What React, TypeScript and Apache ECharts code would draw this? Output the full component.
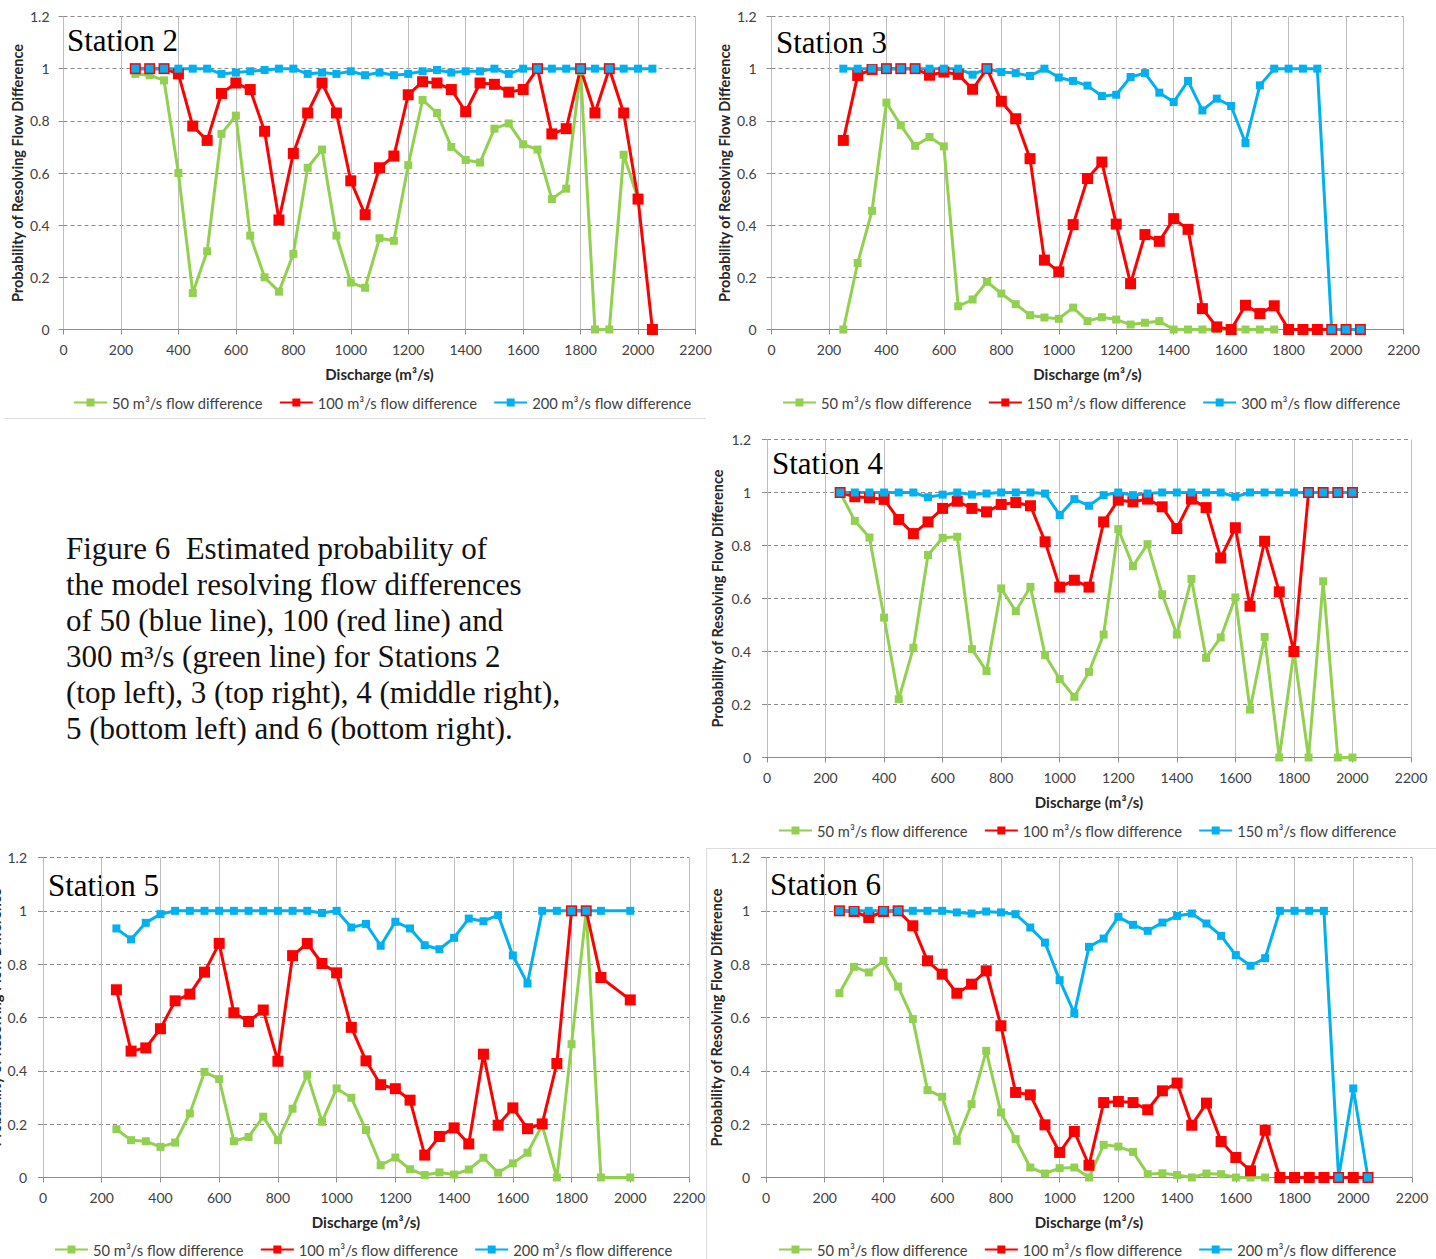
import { useEffect, useRef } from "react";
import * as echarts from "echarts";

// Discharge steps (m³/s) at which the probabilities were evaluated
const dischargeFull = [250, 300, 350, 400, 450, 500, 550, 600, 650, 700, 750, 800, 850, 900, 950, 1000, 1050, 1100, 1150, 1200, 1250, 1300, 1350, 1400, 1450, 1500, 1550, 1600, 1650, 1700, 1750, 1800, 1850, 1900, 1950, 2000, 2050];
const dischargeSt4 = [250, 300, 350, 400, 450, 500, 550, 600, 650, 700, 750, 800, 850, 900, 950, 1000, 1050, 1100, 1150, 1200, 1250, 1300, 1350, 1400, 1450, 1500, 1550, 1600, 1650, 1700, 1750, 1800, 1850, 1900, 1950, 2000];
const dischargeSt5 = [250, 300, 350, 400, 450, 500, 550, 600, 650, 700, 750, 800, 850, 900, 950, 1000, 1050, 1100, 1150, 1200, 1250, 1300, 1350, 1400, 1450, 1500, 1550, 1600, 1650, 1700, 1750, 1800, 1850, 1900, 2000];

// Axis ticks
const xTickStep = 200;
const xMax = 2200;
const yTickStep = 0.2;
const yMax = 1.2;

// Station 2
const st2Flow50 = [0.98, 0.975, 0.955, 0.60, 0.14, 0.30, 0.75, 0.82, 0.36, 0.20, 0.145, 0.29, 0.62, 0.69, 0.36, 0.18, 0.16, 0.35, 0.34, 0.63, 0.88, 0.83, 0.70, 0.65, 0.64, 0.77, 0.79, 0.71, 0.69, 0.50, 0.54, 0.99, 0, 0, 0.67, 0.50];
const st2Flow100 = [1, 1, 1, 0.98, 0.78, 0.725, 0.905, 0.945, 0.92, 0.76, 0.42, 0.675, 0.83, 0.945, 0.83, 0.57, 0.44, 0.62, 0.665, 0.90, 0.95, 0.945, 0.92, 0.835, 0.945, 0.94, 0.91, 0.92, 1, 0.75, 0.77, 1, 0.83, 1, 0.83, 0.50, 0];
const st2Flow200 = [1, 1, 1, 1, 1, 1, 0.98, 0.985, 0.99, 0.995, 1, 1, 0.98, 0.985, 0.98, 0.99, 0.975, 0.985, 0.975, 0.98, 0.99, 0.995, 0.985, 0.99, 0.99, 1, 0.98, 1, 1, 1, 1, 1, 1, 1, 1, 1, 1];

// Station 3
const st3Flow50 = [0, 0.255, 0.455, 0.87, 0.783, 0.704, 0.738, 0.702, 0.089, 0.115, 0.183, 0.138, 0.097, 0.055, 0.046, 0.041, 0.084, 0.032, 0.047, 0.038, 0.019, 0.026, 0.032, 0, 0, 0, 0, 0, 0, 0, 0];
const st3Flow150 = [0.725, 0.974, 0.997, 1, 1, 1, 0.975, 0.987, 0.978, 0.921, 1, 0.875, 0.808, 0.655, 0.266, 0.221, 0.402, 0.579, 0.642, 0.404, 0.176, 0.364, 0.338, 0.425, 0.384, 0.08, 0.01, 0, 0.093, 0.061, 0.091, 0, 0, 0, 0, 0, 0];
const st3Flow300 = [1, 1, 1, 1, 1, 1, 1, 1, 1, 0.977, 1, 0.987, 0.983, 0.972, 1, 0.966, 0.953, 0.935, 0.895, 0.9, 0.968, 0.983, 0.908, 0.872, 0.953, 0.84, 0.885, 0.857, 0.715, 0.936, 1, 1, 1, 1, 0, 0, 0];

// Station 4
const st4Flow50 = [1, 0.893, 0.83, 0.528, 0.22, 0.414, 0.764, 0.829, 0.833, 0.409, 0.326, 0.638, 0.552, 0.644, 0.386, 0.296, 0.229, 0.323, 0.464, 0.862, 0.722, 0.805, 0.616, 0.464, 0.674, 0.376, 0.453, 0.604, 0.181, 0.455, 0, 0.4, 0, 0.665, 0, 0];
const st4Flow100 = [1, 0.984, 0.98, 0.974, 0.898, 0.845, 0.889, 0.94, 0.967, 0.94, 0.927, 0.955, 0.962, 0.95, 0.814, 0.643, 0.669, 0.643, 0.889, 0.971, 0.965, 0.975, 0.946, 0.864, 0.975, 0.943, 0.753, 0.867, 0.571, 0.816, 0.625, 0.4, 1, 1, 1, 1];
const st4Flow150 = [1, 1, 1, 1, 1, 1, 0.982, 0.992, 1, 0.992, 0.996, 1, 1, 1, 0.996, 0.915, 0.975, 0.95, 0.99, 1, 0.99, 0.996, 1, 1, 1, 1, 1, 0.984, 1, 1, 1, 1, 1, 1, 1, 1];

// Station 5
const st5Flow50 = [0.181, 0.14, 0.136, 0.115, 0.131, 0.24, 0.396, 0.369, 0.136, 0.152, 0.228, 0.14, 0.258, 0.386, 0.209, 0.334, 0.299, 0.178, 0.046, 0.075, 0.031, 0.009, 0.019, 0.011, 0.03, 0.074, 0.018, 0.053, 0.093, 0.196, 0, 0.5, 1, 0, 0];
const st5Flow100 = [0.704, 0.474, 0.486, 0.558, 0.6625, 0.6875, 0.77, 0.878, 0.6175, 0.585, 0.628, 0.436, 0.832, 0.8775, 0.8025, 0.7675, 0.563, 0.4375, 0.348, 0.333, 0.29, 0.084, 0.154, 0.186, 0.126, 0.4625, 0.196, 0.261, 0.183, 0.201, 0.4275, 1, 1, 0.75, 0.666];
const st5Flow200 = [0.934, 0.893, 0.955, 0.9875, 1, 1, 1, 1, 1, 1, 1, 1, 1, 1, 0.992, 1, 0.9375, 0.951, 0.869, 0.959, 0.934, 0.871, 0.856, 0.899, 0.971, 0.961, 0.984, 0.8325, 0.7275, 1, 1, 1, 1, 1, 1];

// Station 6
const st6Flow50 = [0.691, 0.79, 0.769, 0.8125, 0.716, 0.594, 0.3275, 0.3025, 0.1375, 0.275, 0.475, 0.244, 0.144, 0.0375, 0.015, 0.035, 0.0375, 0, 0.1225, 0.116, 0.096, 0.0125, 0.016, 0.009, 0, 0.015, 0.0125, 0, 0, 0];
const st6Flow100 = [1, 0.9975, 0.975, 0.9975, 1, 0.944, 0.8125, 0.7625, 0.691, 0.725, 0.775, 0.569, 0.319, 0.31, 0.1975, 0.094, 0.1725, 0.046, 0.281, 0.285, 0.281, 0.254, 0.325, 0.354, 0.196, 0.279, 0.135, 0.075, 0.025, 0.1775, 0, 0, 0, 0, 0, 0, 0];
const st6Flow200 = [1, 1, 1, 1, 1, 1, 1, 1, 0.994, 0.99, 0.9975, 0.994, 0.9875, 0.9375, 0.881, 0.74, 0.616, 0.865, 0.896, 0.9775, 0.9475, 0.925, 0.956, 0.981, 0.99, 0.9525, 0.906, 0.834, 0.794, 0.8225, 1, 1, 1, 1, 0, 0.334, 0];

const captionLines = [
  "Figure 6\u00a0 Estimated probability of",
  "the model resolving flow differences",
  "of 50 (blue line), 100 (red line) and",
  "300 m³/s (green line) for Stations 2",
  "(top left), 3 (top right), 4 (middle right),",
  "5 (bottom left) and 6 (bottom right).",
];

const yAxisTitle = "Probability of Resolving Flow Difference";
const xAxisTitle = "Discharge (m³/s)";
const flowLabel = (q: number) => `${q} m³/s flow difference`;
// Series names must be unique per panel so each legend picks up its own series;
// a run of zero-width spaces keeps them apart and is stripped for display.
const ZW = "\u200b";
const seriesName = (q: number, panel: number) => flowLabel(q) + ZW.repeat(panel);

const SANS = "Lato, 'Liberation Sans', sans-serif";
const SERIF = "'Liberation Serif', 'DejaVu Serif', serif";
const GREEN = "#92D050";
const RED = "#FF0000";
const BLUE = "#00B0F0";
const TEXT = "#404040";

type Line = { q: number; x: number[]; y: number[]; color: string; size: number };
type Panel = {
  title: string;
  titleX: number;
  titleY: number;
  grid: { left: number; top: number; width: number; height: number };
  yNameGap: number;
  yLabelMargin: number;
  legendLeft: number;
  legendTop: number;
  lines: Line[];
};

const panels: Panel[] = [
  {
    title: "Station 2", titleX: 67, titleY: 40,
    grid: { left: 63.5, top: 16.5, width: 632, height: 313 },
    yNameGap: 39, yLabelMargin: 14, legendLeft: 73, legendTop: 395,
    lines: [
      { q: 50, x: dischargeFull, y: st2Flow50, color: GREEN, size: 8 },
      { q: 100, x: dischargeFull, y: st2Flow100, color: RED, size: 11 },
      { q: 200, x: dischargeFull, y: st2Flow200, color: BLUE, size: 8 },
    ],
  },
  {
    title: "Station 3", titleX: 776, titleY: 42,
    grid: { left: 771.5, top: 16.5, width: 632, height: 313 },
    yNameGap: 40, yLabelMargin: 15, legendLeft: 782, legendTop: 395,
    lines: [
      { q: 50, x: dischargeFull, y: st3Flow50, color: GREEN, size: 8 },
      { q: 150, x: dischargeFull, y: st3Flow150, color: RED, size: 11 },
      { q: 300, x: dischargeFull, y: st3Flow300, color: BLUE, size: 8 },
    ],
  },
  {
    title: "Station 4", titleX: 772, titleY: 463,
    grid: { left: 767, top: 439.5, width: 644, height: 318 },
    yNameGap: 42, yLabelMargin: 16, legendLeft: 778, legendTop: 823,
    lines: [
      { q: 50, x: dischargeSt4, y: st4Flow50, color: GREEN, size: 8 },
      { q: 100, x: dischargeSt4, y: st4Flow100, color: RED, size: 11 },
      { q: 150, x: dischargeSt4, y: st4Flow150, color: BLUE, size: 8 },
    ],
  },
  {
    title: "Station 5", titleX: 48, titleY: 885,
    grid: { left: 43, top: 857.5, width: 646, height: 320 },
    yNameGap: 40, yLabelMargin: 16, legendLeft: 54, legendTop: 1242,
    lines: [
      { q: 50, x: dischargeSt5, y: st5Flow50, color: GREEN, size: 8 },
      { q: 100, x: dischargeSt5, y: st5Flow100, color: RED, size: 11 },
      { q: 200, x: dischargeSt5, y: st5Flow200, color: BLUE, size: 8 },
    ],
  },
  {
    title: "Station 6", titleX: 770, titleY: 884,
    grid: { left: 766, top: 857.5, width: 646, height: 320 },
    yNameGap: 42, yLabelMargin: 16, legendLeft: 778, legendTop: 1242,
    lines: [
      { q: 50, x: dischargeFull, y: st6Flow50, color: GREEN, size: 8 },
      { q: 100, x: dischargeFull, y: st6Flow100, color: RED, size: 11 },
      { q: 200, x: dischargeFull, y: st6Flow200, color: BLUE, size: 8 },
    ],
  },
];

function buildOption() {
  // keep each plot rectangle exactly where it is placed, even if names spill over the edge
  const grid = panels.map((p) => ({ ...p.grid, containLabel: false, outerBoundsMode: "none" }));

  const xAxis = panels.map((p, i) => ({
    type: "value",
    gridIndex: i,
    min: 0,
    max: xMax,
    interval: xTickStep,
    axisLine: { show: true, lineStyle: { color: "#8c8c8c", width: 1 } },
    axisTick: { show: true, length: 5, lineStyle: { color: "#8c8c8c" } },
    splitLine: { show: true, lineStyle: { color: "#bdbdbd", width: 1, type: "solid" } },
    axisLabel: {
      fontFamily: SANS,
      fontSize: 14,
      color: TEXT,
      margin: 13,
      formatter: (v: number) => String(v),
    },
    name: xAxisTitle,
    nameLocation: "middle",
    nameGap: 37,
    nameTextStyle: { fontFamily: SANS, fontSize: 15, fontWeight: "bold", color: "#262626" },
  }));

  const yAxis = panels.map((p, i) => ({
    type: "value",
    gridIndex: i,
    min: 0,
    max: yMax,
    interval: yTickStep,
    axisLine: { show: false },
    axisTick: { show: true, length: 5, lineStyle: { color: "#8c8c8c" } },
    splitLine: { show: true, lineStyle: { color: "#8a8a8a", width: 1, type: [4, 3] } },
    axisLabel: {
      fontFamily: SANS,
      fontSize: 14,
      color: TEXT,
      margin: p.yLabelMargin,
      formatter: (v: number) => String(Math.round(v * 10) / 10),
    },
    name: yAxisTitle,
    nameLocation: "middle",
    nameGap: p.yNameGap,
    nameTextStyle: { fontFamily: SANS, fontSize: 14.5, fontWeight: "bold", color: "#262626" },
  }));

  const legend = panels.map((p, i) => ({
    data: p.lines.map((l) => seriesName(l.q, i)),
    formatter: (name: string) => name.split(ZW).join(""),
    left: p.legendLeft,
    top: p.legendTop,
    padding: 0,
    itemWidth: 33,
    itemHeight: 10,
    itemGap: 16,
    selectedMode: false,
    textStyle: { fontFamily: SANS, fontSize: 14.7, color: TEXT },
  }));

  const series = panels.flatMap((p, i) =>
    p.lines.map((l) => ({
      type: "line",
      name: seriesName(l.q, i),
      xAxisIndex: i,
      yAxisIndex: i,
      data: l.y.map((v, k) => [l.x[k], v]),
      symbol: "rect",
      symbolSize: l.size,
      showAllSymbol: true,
      lineStyle: { color: l.color, width: 3 },
      itemStyle: { color: l.color },
      emphasis: { disabled: true },
    }))
  );

  const graphic: any[] = panels.map((p) => ({
    type: "text",
    x: p.titleX,
    y: p.titleY,
    style: {
      text: p.title,
      font: `31px ${SERIF}`,
      fill: "#000",
      verticalAlign: "middle",
    },
  }));

  graphic.push({
    type: "text",
    x: 66,
    y: 530,
    style: {
      text: captionLines.join("\n"),
      font: `31px ${SERIF}`,
      lineHeight: 36,
      fill: "#111",
      verticalAlign: "top",
    },
  });

  // faint chart-box borders between the panels
  const border = { stroke: "#dcdcdc", lineWidth: 1 };
  graphic.push(
    { type: "line", shape: { x1: 4, y1: 418.5, x2: 706, y2: 418.5 }, style: border },
    { type: "line", shape: { x1: 706.5, y1: 848, x2: 706.5, y2: 1259 }, style: border },
    { type: "line", shape: { x1: 707, y1: 848.5, x2: 1436, y2: 848.5 }, style: border }
  );

  return {
    animation: false,
    backgroundColor: "#ffffff",
    grid,
    xAxis,
    yAxis,
    legend,
    series,
    graphic,
  };
}

export default function App() {
  const ref = useRef<HTMLDivElement>(null);

  useEffect(() => {
    if (!ref.current) return;
    const chart = echarts.init(ref.current, undefined, { renderer: "svg" });
    chart.setOption(buildOption() as any);
    return () => chart.dispose();
  }, []);

  return (
    <div
      ref={ref}
      style={{ position: "absolute", left: 0, top: 0, width: 1436, height: 1259, background: "#fff" }}
    />
  );
}
